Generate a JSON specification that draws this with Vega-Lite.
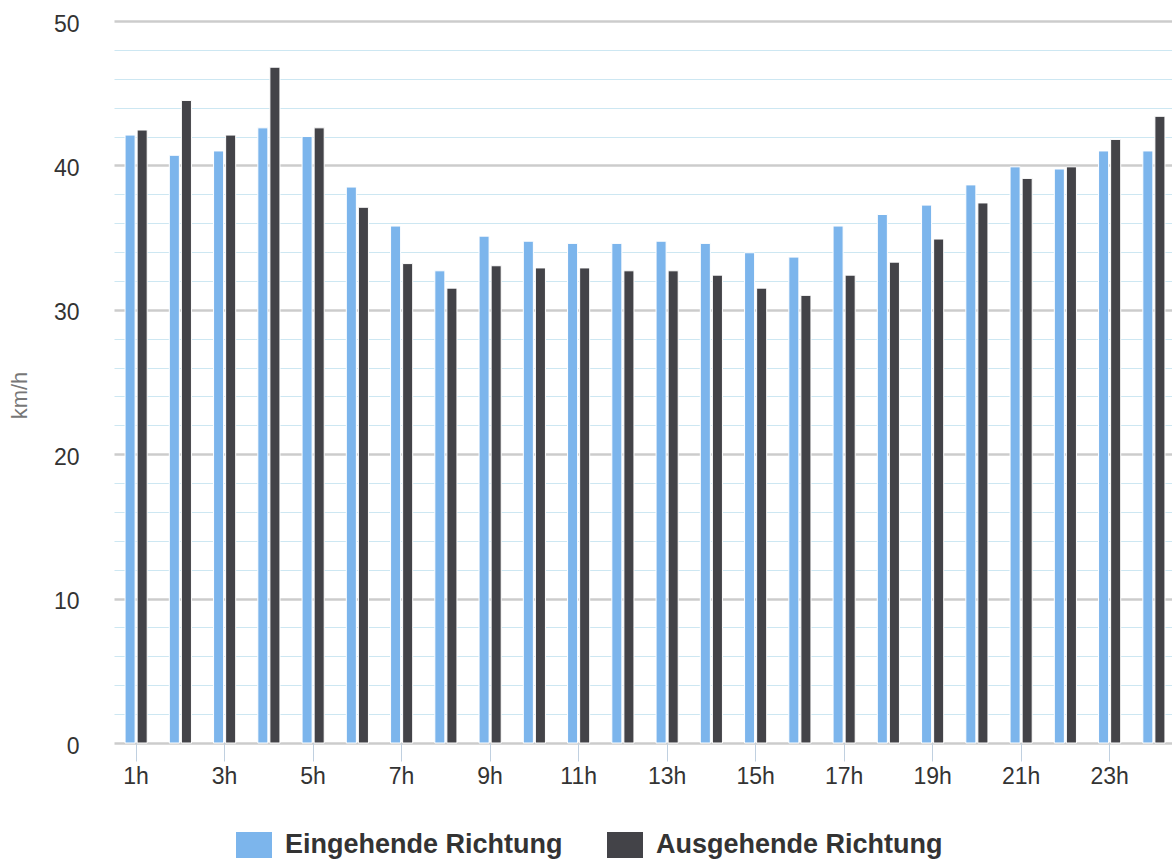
{
  "$schema": "https://vega.github.io/schema/vega-lite/v6.json",
  "width": 1058,
  "height": 722,
  "autosize": {"type": "none"},
  "padding": {"left": 114, "top": 21, "right": 0, "bottom": 118},
  "background": "white",
  "config": {"view": {"stroke": null}, "font": "Liberation Sans"},
  "data": {"values": [
    {"hour": "1h", "richtung": "Eingehende Richtung", "kmh": 42.1},
    {"hour": "1h", "richtung": "Ausgehende Richtung", "kmh": 42.45},
    {"hour": "2h", "richtung": "Eingehende Richtung", "kmh": 40.7},
    {"hour": "2h", "richtung": "Ausgehende Richtung", "kmh": 44.5},
    {"hour": "3h", "richtung": "Eingehende Richtung", "kmh": 41.0},
    {"hour": "3h", "richtung": "Ausgehende Richtung", "kmh": 42.1},
    {"hour": "4h", "richtung": "Eingehende Richtung", "kmh": 42.6},
    {"hour": "4h", "richtung": "Ausgehende Richtung", "kmh": 46.8},
    {"hour": "5h", "richtung": "Eingehende Richtung", "kmh": 42.0},
    {"hour": "5h", "richtung": "Ausgehende Richtung", "kmh": 42.6},
    {"hour": "6h", "richtung": "Eingehende Richtung", "kmh": 38.5},
    {"hour": "6h", "richtung": "Ausgehende Richtung", "kmh": 37.1},
    {"hour": "7h", "richtung": "Eingehende Richtung", "kmh": 35.8},
    {"hour": "7h", "richtung": "Ausgehende Richtung", "kmh": 33.2},
    {"hour": "8h", "richtung": "Eingehende Richtung", "kmh": 32.7},
    {"hour": "8h", "richtung": "Ausgehende Richtung", "kmh": 31.5},
    {"hour": "9h", "richtung": "Eingehende Richtung", "kmh": 35.1},
    {"hour": "9h", "richtung": "Ausgehende Richtung", "kmh": 33.05},
    {"hour": "10h", "richtung": "Eingehende Richtung", "kmh": 34.75},
    {"hour": "10h", "richtung": "Ausgehende Richtung", "kmh": 32.9},
    {"hour": "11h", "richtung": "Eingehende Richtung", "kmh": 34.6},
    {"hour": "11h", "richtung": "Ausgehende Richtung", "kmh": 32.9},
    {"hour": "12h", "richtung": "Eingehende Richtung", "kmh": 34.6},
    {"hour": "12h", "richtung": "Ausgehende Richtung", "kmh": 32.7},
    {"hour": "13h", "richtung": "Eingehende Richtung", "kmh": 34.75},
    {"hour": "13h", "richtung": "Ausgehende Richtung", "kmh": 32.7},
    {"hour": "14h", "richtung": "Eingehende Richtung", "kmh": 34.6},
    {"hour": "14h", "richtung": "Ausgehende Richtung", "kmh": 32.4},
    {"hour": "15h", "richtung": "Eingehende Richtung", "kmh": 33.95},
    {"hour": "15h", "richtung": "Ausgehende Richtung", "kmh": 31.5},
    {"hour": "16h", "richtung": "Eingehende Richtung", "kmh": 33.65},
    {"hour": "16h", "richtung": "Ausgehende Richtung", "kmh": 31.0},
    {"hour": "17h", "richtung": "Eingehende Richtung", "kmh": 35.8},
    {"hour": "17h", "richtung": "Ausgehende Richtung", "kmh": 32.4},
    {"hour": "18h", "richtung": "Eingehende Richtung", "kmh": 36.6},
    {"hour": "18h", "richtung": "Ausgehende Richtung", "kmh": 33.3},
    {"hour": "19h", "richtung": "Eingehende Richtung", "kmh": 37.25},
    {"hour": "19h", "richtung": "Ausgehende Richtung", "kmh": 34.9},
    {"hour": "20h", "richtung": "Eingehende Richtung", "kmh": 38.65},
    {"hour": "20h", "richtung": "Ausgehende Richtung", "kmh": 37.4},
    {"hour": "21h", "richtung": "Eingehende Richtung", "kmh": 39.9},
    {"hour": "21h", "richtung": "Ausgehende Richtung", "kmh": 39.1},
    {"hour": "22h", "richtung": "Eingehende Richtung", "kmh": 39.75},
    {"hour": "22h", "richtung": "Ausgehende Richtung", "kmh": 39.9},
    {"hour": "23h", "richtung": "Eingehende Richtung", "kmh": 41.0},
    {"hour": "23h", "richtung": "Ausgehende Richtung", "kmh": 41.8},
    {"hour": "24h", "richtung": "Eingehende Richtung", "kmh": 41.0},
    {"hour": "24h", "richtung": "Ausgehende Richtung", "kmh": 43.4}
  ]},
  "mark": {"type": "bar", "stroke": "white", "strokeWidth": 1},
  "encoding": {
    "x": {
      "field": "hour", "type": "ordinal", "sort": null,
      "scale": {"range": [0, 1062], "paddingInner": 0.5, "paddingOuter": 0.25},
      "axis": {
        "title": null,
        "values": ["1h", "3h", "5h", "7h", "9h", "11h", "13h", "15h", "17h", "19h", "21h", "23h"],
        "labelAngle": 0,
        "domain": false,
        "grid": false,
        "tickColor": "#c0d0e0",
        "tickSize": 18,
        "tickWidth": 1,
        "labelFontSize": 23,
        "labelColor": "#333333",
        "labelPadding": 4
      }
    },
    "xOffset": {
      "field": "richtung",
      "sort": ["Eingehende Richtung", "Ausgehende Richtung"],
      "scale": {"paddingInner": 0.167, "paddingOuter": 0}
    },
    "y": {
      "field": "kmh", "type": "quantitative",
      "scale": {"domain": [0, 50], "nice": false},
      "axis": {
        "title": "km/h",
        "values": [0, 2, 4, 6, 8, 10, 12, 14, 16, 18, 20, 22, 24, 26, 28, 30, 32, 34, 36, 38, 40, 42, 44, 46, 48, 50],
        "labelExpr": "datum.value % 10 === 0 ? datum.label : ''",
        "domain": false,
        "ticks": false,
        "gridColor": {"condition": {"test": "datum.value % 10 === 0", "value": "#cccccc"}, "value": "#cde7f2"},
        "gridWidth": {"condition": {"test": "datum.value % 10 === 0", "value": 2.5}, "value": 1.2},
        "labelFontSize": 23,
        "labelColor": "#333333",
        "labelPadding": 35,
        "labelOffset": 3,
        "titleFontSize": 22,
        "titleFontWeight": "normal",
        "titleColor": "#777777",
        "titleX": -95,
        "titleY": 374,
        "titleAngle": -90,
        "titleAlign": "center",
        "titleBaseline": "middle"
      }
    },
    "color": {
      "field": "richtung", "type": "nominal",
      "scale": {"domain": ["Eingehende Richtung", "Ausgehende Richtung"], "range": ["#7cb5ec", "#434348"]},
      "legend": {
        "orient": "none",
        "legendX": 122,
        "legendY": 806,
        "direction": "horizontal",
        "title": null,
        "symbolType": "M-1,-0.72H1V0.72H-1Z",
        "symbolSize": 1296,
        "symbolStrokeWidth": 0,
        "symbolOpacity": 1,
        "labelFontSize": 27,
        "labelFontWeight": "bold",
        "labelColor": "#333333",
        "labelOffset": 13,
        "labelLimit": 500,
        "columnPadding": 44
      }
    }
  }
}
